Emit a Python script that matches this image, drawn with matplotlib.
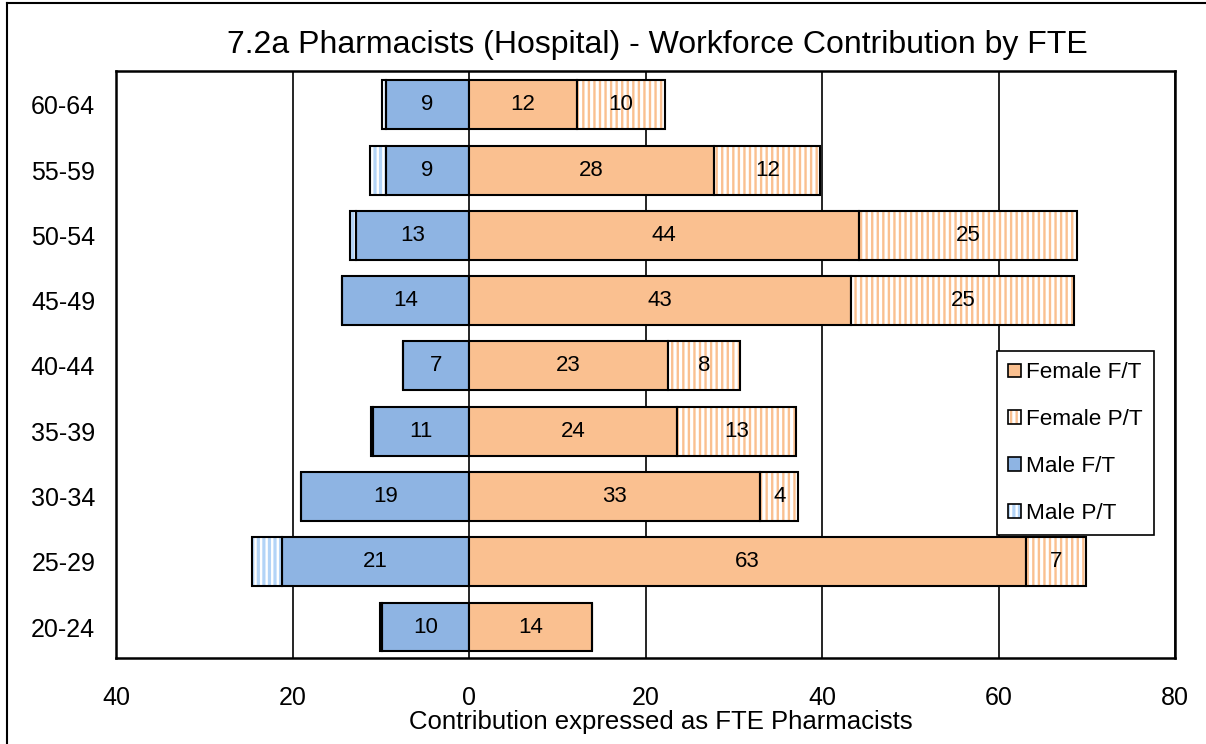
import numpy as np
import matplotlib
matplotlib.use("Agg")
import matplotlib.pyplot as plt
from matplotlib.patches import Patch
from matplotlib.lines import Line2D
from matplotlib.ticker import FuncFormatter

plt.rcParams['font.family'] = ['Liberation Sans', 'DejaVu Sans']
plt.rcParams['hatch.linewidth'] = 2.3

# age bands, bottom to top
ages = ['20-24', '25-29', '30-34', '35-39', '40-44', '45-49', '50-54', '55-59', '60-64']
male_ft = [9.9, 21.2, 19.0, 10.9, 7.45, 14.4, 12.8, 9.4, 9.4]
male_pt = [0.2, 3.4, 0.0, 0.2, 0.0, 0.0, 0.7, 1.8, 0.5]
female_ft = [13.9, 63.1, 33.0, 23.6, 22.6, 43.3, 44.2, 27.8, 12.2]
female_pt = [0.0, 6.8, 4.3, 13.45, 8.1, 25.3, 24.7, 12.0, 10.0]
labels = ['Female F/T', 'Female P/T', 'Male F/T', 'Male P/T']

blue = '#8EB4E3'
orange = '#FAC090'
light_blue = '#B3D4F7'

fig = plt.figure(figsize=(12.06, 7.44), dpi=100)
ax = fig.add_axes([116 / 1206, 1 - 658 / 744, (1175 - 116) / 1206, (658 - 71) / 744])

y = np.arange(len(ages))
h = 0.75
mft = -np.array(male_ft)
mpt = -np.array(male_pt)
fft = np.array(female_ft)
fpt = np.array(female_pt)


def striped(left, width, face, stripe):
    # hatch takes the edge colour, so draw fill+stripes first, then the black outline
    ax.barh(y, width, h, left=left, color=face, edgecolor=stripe, hatch='|||', lw=0, zorder=3)
    ax.barh(y, width, h, left=left, fill=False, edgecolor='black', lw=1.5, zorder=4)


ax.barh(y, mft, h, color=blue, edgecolor='black', lw=1.5, zorder=3)
striped(mft, mpt, 'white', light_blue)
ax.barh(y, fft, h, color=orange, edgecolor='black', lw=1.5, zorder=3)
striped(fft, fpt, orange, 'white')

# value labels
lab = dict(ha='center', va='center', fontsize=16, zorder=5)
for i in y:
    ax.text(mft[i] / 2, i, f'{round(male_ft[i])}', **lab)
    ax.text(fft[i] / 2, i, f'{round(female_ft[i])}', **lab)
    if female_pt[i] > 0:
        ax.text(fft[i] + fpt[i] / 2, i, f'{round(female_pt[i])}', **lab)

ax.set_xlim(-40, 80)
ax.set_ylim(-0.475, 8.52)
ax.set_xticks(np.arange(-40, 81, 20))
ax.xaxis.set_major_formatter(FuncFormatter(lambda v, p: f'{abs(int(v))}'))
ax.set_yticks(y)
ax.set_yticklabels(ages)
ax.tick_params(length=0, labelsize=18)
ax.tick_params(axis='x', pad=20)
ax.tick_params(axis='y', pad=15)
ax.grid(axis='x', color='black', lw=1.2, zorder=1)
for s in ax.spines.values():
    s.set_linewidth(1.8)

fig.text(661 / 1206, 1 - 722 / 744, 'Contribution expressed as FTE Pharmacists',
         ha='center', va='center', fontsize=18.5)
fig.text(657 / 1206, 1 - 45 / 744, '7.2a Pharmacists (Hospital) - Workforce Contribution by FTE',
         ha='center', va='center', fontsize=23)

handles = [
    Patch(facecolor=orange, edgecolor='black', lw=1.2),
    (Patch(facecolor=orange, edgecolor='white', hatch='|||', lw=0),
     Patch(fill=False, edgecolor='black', lw=1.2)),
    Patch(facecolor=blue, edgecolor='black', lw=1.2),
    (Patch(facecolor='white', edgecolor=light_blue, hatch='|||', lw=0),
     Patch(fill=False, edgecolor='black', lw=1.2)),
]
leg = ax.legend(handles, labels, loc='upper left',
                bbox_to_anchor=(997 / 1206, 1 - 351 / 744), bbox_transform=fig.transFigure,
                borderaxespad=0, fontsize=16.2, handlelength=0.55, handleheight=0.55,
                handletextpad=0.25, labelspacing=1.15, borderpad=0.5, fancybox=False,
                framealpha=1, edgecolor='black')
leg.get_frame().set_linewidth(1.2)
leg.set_zorder(6)

# outer chart border (left and top edges visible)
fig.add_artist(Line2D([7 / 1206, 7 / 1206], [0, 1 - 3 / 744], color='black', lw=1.5,
                      transform=fig.transFigure))
fig.add_artist(Line2D([7 / 1206, 1], [1 - 3 / 744, 1 - 3 / 744], color='black', lw=1.5,
                      transform=fig.transFigure))

fig.savefig('out.png', dpi=100)
